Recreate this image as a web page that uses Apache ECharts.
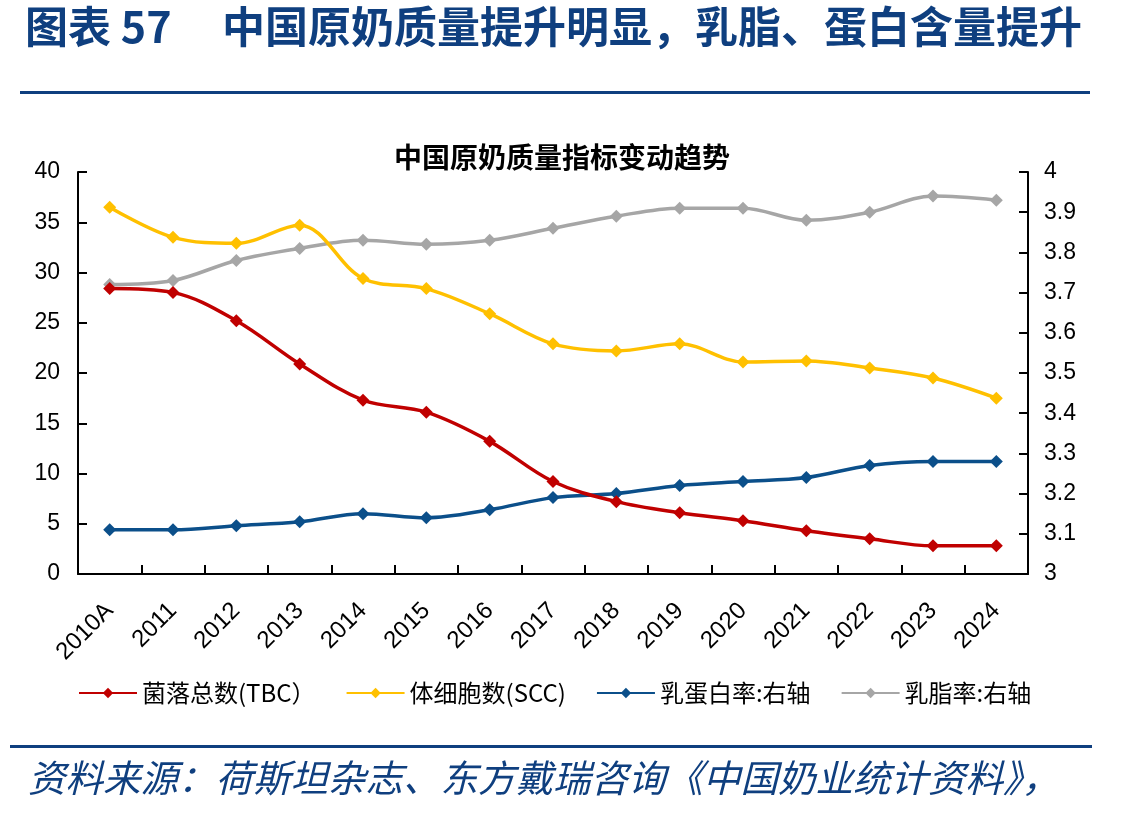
<!DOCTYPE html>
<html>
<head>
<meta charset="utf-8">
<script src="https://cdn.jsdelivr.net/npm/echarts@6/dist/echarts.min.js"></script>
<style>
  html, body { margin: 0; padding: 0; background: #fff; }
  #main { width: 1128px; height: 815px; }
</style>
</head>
<body>
<div id="main"></div>
<script>
// 年份
var years = ['2010A', '2011', '2012', '2013', '2014', '2015', '2016', '2017', '2018', '2019', '2020', '2021', '2022', '2023', '2024'];
// 菌落总数(TBC) 左轴
var tbc = [28.4, 28.0, 25.2, 20.9, 17.3, 16.1, 13.2, 9.2, 7.2, 6.1, 5.3, 4.3, 3.5, 2.8, 2.8];
// 体细胞数(SCC) 左轴
var scc = [36.5, 33.5, 32.9, 34.7, 29.4, 28.4, 25.9, 22.9, 22.2, 22.9, 21.1, 21.2, 20.5, 19.5, 17.5];
// 乳蛋白率 右轴
var protein = [3.11, 3.11, 3.12, 3.13, 3.15, 3.14, 3.16, 3.19, 3.20, 3.22, 3.23, 3.24, 3.27, 3.28, 3.28];
// 乳脂率 右轴
var fat = [3.72, 3.73, 3.78, 3.81, 3.83, 3.82, 3.83, 3.86, 3.89, 3.91, 3.91, 3.88, 3.90, 3.94, 3.93];

var names = ['菌落总数(TBC）', '体细胞数(SCC)', '乳蛋白率:右轴', '乳脂率:右轴'];
var colors = ['#C00000', '#FFC000', '#0B4F8A', '#A6A6A6'];

var myChart = echarts.init(document.getElementById('main'));

function mkLine(i, data, yIdx) {
  return {
    name: names[i],
    type: 'line',
    yAxisIndex: yIdx,
    data: data,
    smooth: 0.35,
    symbol: 'diamond',
    symbolSize: 13,
    itemStyle: { color: colors[i] },
    lineStyle: { color: colors[i], width: 3.5 },
    z: 10 - i
  };
}

var axisCommon = {
  axisLine: { show: true, lineStyle: { color: '#000', width: 2 } },
  axisTick: { show: true, inside: true, length: 9, lineStyle: { color: '#000', width: 2 } },
  splitLine: { show: false },
  axisLabel: { color: '#000', fontSize: 23, fontFamily: 'Liberation Sans' }
};

myChart.setOption({
  backgroundColor: '#fff',
  animation: false,
  title: {
    text: '中国原奶质量指标变动趋势',
    left: 557, top: 138, textAlign: 'center',
    textStyle: { fontSize: 28, fontWeight: 'bold', color: '#000', fontFamily: 'Noto Sans CJK SC' }
  },
  grid: { left: 78, right: 100, top: 172, bottom: 241, containLabel: false },
  legend: {
    left: 73, top: 676,
    itemWidth: 58, itemHeight: 13, itemGap: 30,
    data: names,
    textStyle: { fontSize: 24, color: '#000', fontFamily: 'Noto Sans CJK SC' }
  },
  xAxis: {
    type: 'category',
    data: years,
    boundaryGap: true,
    axisLine: { show: true, lineStyle: { color: '#000', width: 2 } },
    axisTick: { show: true, inside: true, length: 9, lineStyle: { color: '#000', width: 2 } },
    axisLabel: { color: '#000', fontSize: 24, fontFamily: 'Liberation Sans', rotate: 45, margin: 33, interval: 0 }
  },
  yAxis: [
    Object.assign({ type: 'value', min: 0, max: 40, interval: 5, position: 'left' }, axisCommon,
      { axisLabel: Object.assign({}, axisCommon.axisLabel, { margin: 18 }) }),
    Object.assign({ type: 'value', min: 3, max: 4, interval: 0.1, position: 'right' }, axisCommon,
      { axisLabel: Object.assign({}, axisCommon.axisLabel, { margin: 16, formatter: function (v) { return String(+v.toFixed(1)); } }) })
  ],
  series: [
    mkLine(0, tbc, 0),
    mkLine(1, scc, 0),
    mkLine(2, protein, 1),
    mkLine(3, fat, 1)
  ],
  graphic: [
    {
      type: 'text', left: 25, top: 5,
      style: { text: '图表 57', fontSize: 43, fontWeight: 'bold', fill: '#0F3F7F', fontFamily: 'Noto Sans CJK SC' }
    },
    {
      type: 'text', left: 222, top: 5,
      style: { text: '中国原奶质量提升明显，乳脂、蛋白含量提升', fontSize: 43, fontWeight: 'bold',
        fill: '#0F3F7F', fontFamily: 'Noto Sans CJK SC' }
    },
    { type: 'rect', shape: { x: 20, y: 91, width: 1070, height: 3 }, style: { fill: '#0F3F7F' } },
    { type: 'rect', shape: { x: 10, y: 745, width: 1082, height: 3 }, style: { fill: '#0F3F7F' } },
    {
      type: 'text', left: 28, top: 759,
      style: { text: '资料来源：荷斯坦杂志、东方戴瑞咨询《中国奶业统计资料》，', fontSize: 37.5, fontStyle: 'italic',
        fill: '#0F3F7F', fontFamily: 'Noto Sans CJK SC' }
    }
  ]
});
</script>
</body>
</html>
